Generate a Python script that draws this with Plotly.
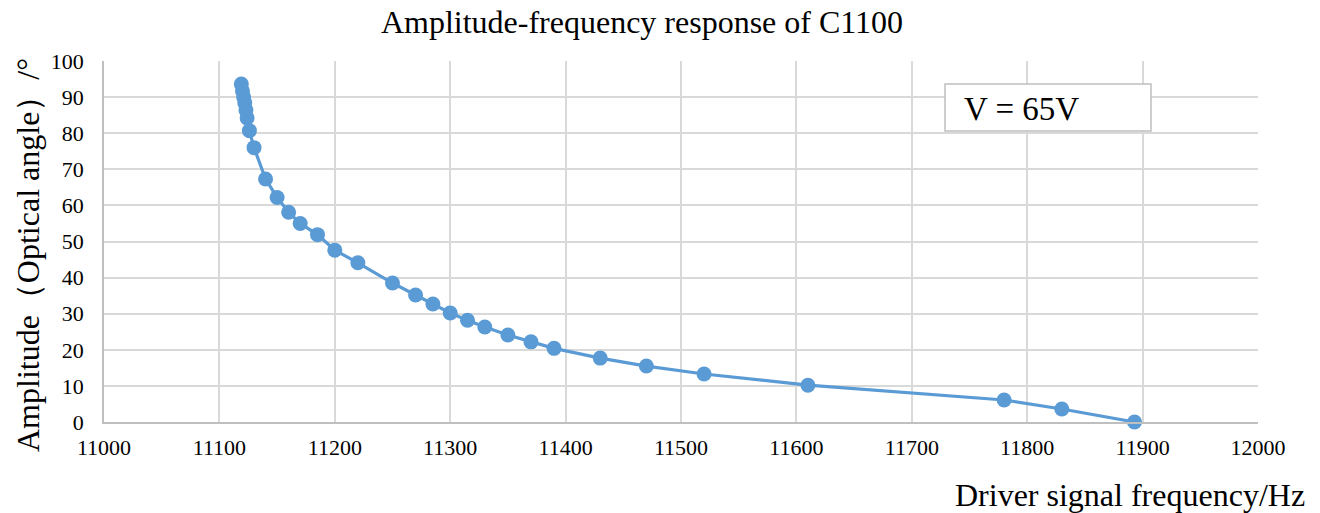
import plotly.graph_objects as go

freq = [11119, 11120, 11121, 11122, 11123, 11124, 11126, 11130, 11140, 11150,
        11160, 11170, 11185, 11200, 11220, 11250, 11270, 11285, 11300, 11315,
        11330, 11350, 11370, 11390, 11430, 11470, 11520, 11610, 11780, 11830, 11893]
amp = [93.6, 91.7, 90.0, 88.4, 86.4, 84.2, 80.7, 76.0, 67.3, 62.2,
       58.1, 55.0, 51.9, 47.6, 44.1, 38.5, 35.2, 32.7, 30.2, 28.2,
       26.3, 24.1, 22.2, 20.4, 17.7, 15.5, 13.3, 10.2, 6.1, 3.6, 0.0]

x_ticks = list(range(11000, 12001, 100))
y_ticks = list(range(0, 101, 10))

title_text = "Amplitude-frequency response of C1100"
x_title = "Driver signal frequency/Hz"
y_title = "Amplitude（Optical angle）/°"
box_text = "V = 65V"

FONT = "Liberation Serif, Times New Roman, serif"
BLUE = "#5B9BD5"
GRID = "#D9D9D9"

L, R, T, B = 104, 62, 61, 91
PW, PH = 1320 - L - R, 513 - T - B

fig = go.Figure()
fig.add_trace(go.Scatter(
    x=freq, y=amp, mode="lines+markers",
    line=dict(color=BLUE, width=3.2),
    marker=dict(color=BLUE, size=15),
    cliponaxis=False, showlegend=False,
))

fig.update_layout(
    width=1320, height=513,
    margin=dict(l=L, r=R, t=T, b=B, autoexpand=False),
    paper_bgcolor="white", plot_bgcolor="white",
    font=dict(family=FONT, color="#000000", size=22),
    title=dict(text=title_text, x=642 / 1320, xanchor="center", y=1 - 22 / 513, yanchor="middle",
               font=dict(family=FONT, size=32, color="#000")),
    xaxis=dict(range=[11000, 12000], tickvals=x_ticks, ticktext=[str(v) for v in x_ticks],
               showgrid=True, gridcolor=GRID, gridwidth=1.5,
               showline=True, linecolor="#BFBFBF", linewidth=1.5,
               zeroline=False, ticks="", ticklen=0, tickfont=dict(size=22),
               ticklabelstandoff=5),
    yaxis=dict(range=[0, 100], tickvals=y_ticks, ticktext=[str(v) for v in y_ticks],
               showgrid=True, gridcolor=GRID, gridwidth=1.5,
               showline=True, linecolor="#BFBFBF", linewidth=1.5,
               zeroline=False, ticks="", ticklen=0, tickfont=dict(size=22),
               ticklabelstandoff=14),
)

fig.add_annotation(text=x_title, xref="paper", yref="paper", x=(1307 - L) / PW, y=(422 - 495) / PH,
                   xanchor="right", yanchor="middle", showarrow=False,
                   font=dict(family=FONT, size=32, color="#000"))
fig.add_annotation(text=y_title, xref="paper", yref="paper", x=(28 - L) / PW, y=(422 - 255) / PH,
                   xanchor="center", yanchor="middle", textangle=-90, showarrow=False,
                   font=dict(family=FONT, size=32, color="#000"))

fig.add_shape(type="rect", xref="paper", yref="paper",
              x0=(945 - L) / PW, x1=(1151 - L) / PW,
              y0=(422 - 131) / PH, y1=(422 - 84) / PH,
              line=dict(color="#BFBFBF", width=1.5), fillcolor="white", layer="above")
fig.add_annotation(text=box_text, xref="paper", yref="paper",
                   x=(962 - L) / PW, y=(422 - 109) / PH,
                   xanchor="left", yanchor="middle", showarrow=False,
                   font=dict(family=FONT, size=33, color="#000"))

fig.write_html("out.html", config={"displayModeBar": False},
               post_script="document.body.style.margin='0';document.body.style.overflow='hidden';")
